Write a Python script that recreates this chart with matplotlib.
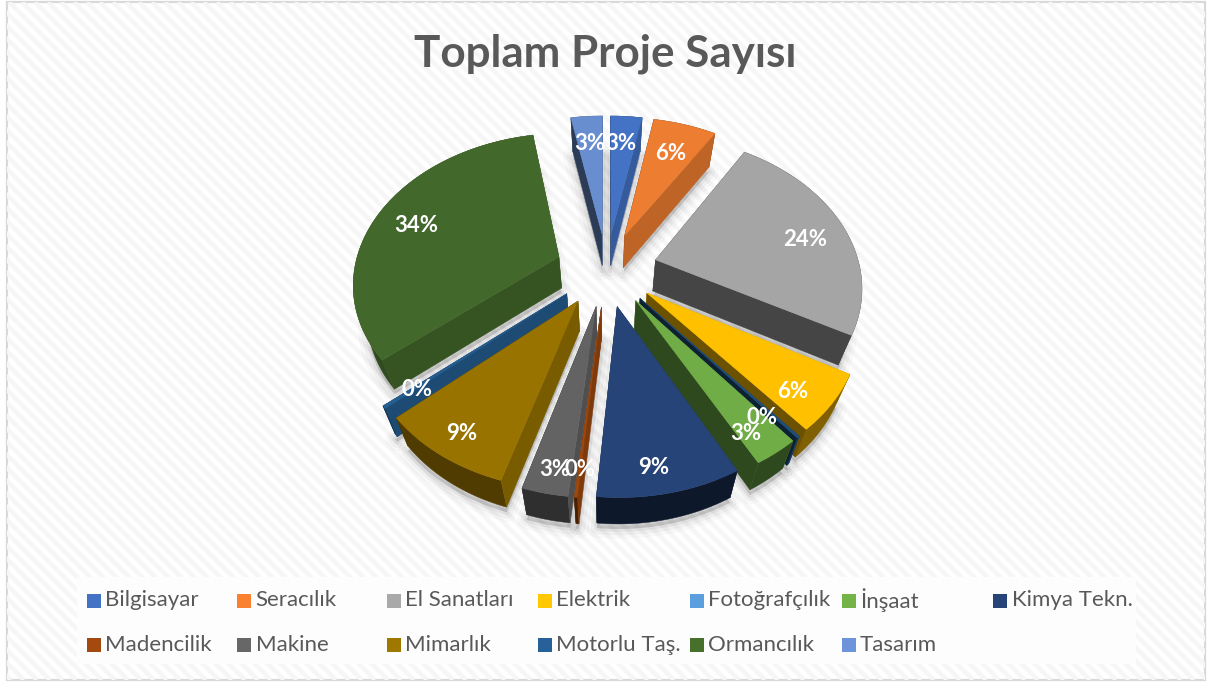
import numpy as np
import matplotlib
matplotlib.use("Agg")
import matplotlib.pyplot as plt
from matplotlib.patches import Polygon, Rectangle
from matplotlib.collections import LineCollection
from matplotlib.colors import to_rgb

# ---------- data ----------
categories = ["Bilgisayar", "Seracılık", "El Sanatları", "Elektrik", "Fotoğrafçılık", "İnşaat",
              "Kimya Tekn.", "Madencilik", "Makine", "Mimarlık", "Motorlu Taş.", "Ormancılık", "Tasarım"]
values = [3, 6, 24.4, 6, 0.2, 3, 9.4, 0.2, 3, 9, 0.3, 33.6, 3]
value_labels = ["3%", "6%", "24%", "6%", "0%", "3%", "9%", "0%", "3%", "9%", "0%", "34%", "3%"]

# ---------- style ----------
colors = ["#4472C4", "#ED7D31", "#A5A5A5", "#FFC000", "#1F4E79", "#70AD47", "#264478",
          "#9E480E", "#636363", "#997300", "#255E91", "#43682B", "#698ED0"]
legend_colors = ["#4472C4", "#F9812F", "#A9A9A9", "#FFC800", "#5B9FDF", "#74B347", "#264478",
                 "#A54A0E", "#676767", "#9F7800", "#26619A", "#46702B", "#6D94DA"]
outer_shade = [.5, .5, .4, .5, .8, .42, .35, .45, .47, .52, .6, .72, .5]
label_xy = [(621, 144), (671, 153), (805, 240), (793, 391), (762, 417), (746, 433), (654, 468),
            (580, 470), (555, 469), (462, 433), (417, 390), (416, 226), (590, 144)]
legend_x = [87, 237.5, 387, 538, 690, 842, 993.5]
legend_y = [600.5, 645]
TEXT = "#595959"
FONT = "Lato"

# projection of the tilted pie plane to the pixel space of the axes
CX, CY, RX, RY, K, EXPLODE = 606.5, 269, 204.5, 147, 0.16, 0.25


def project(u, v):
    w = 1 + K * v
    return CX + RX * u / w, CY - RY * v / w


def drop(p):
    x, y = p
    return CX + (x - CX) * 0.945, y + 31 - 0.02 * (y - CY)


def shaded(c, f):
    return tuple(np.array(to_rgb(c)) * f)


fig = plt.figure(figsize=(12.08, 6.82), dpi=100)
ax = fig.add_axes([0, 0, 1, 1])
ax.set_xlim(0, 1208)
ax.set_ylim(682, 0)
ax.axis("off")

# fabric-like background
frame = Rectangle((7, 1.5), 1197.5, 678.5, fc="white", ec="#D9D9D9", lw=1.6, zorder=0)
ax.add_patch(frame)
stripes = [[(x, 2), (x + 678, 680)] for x in np.arange(-680, 1205, 13)]
lc = LineCollection(stripes, colors="#F6F6F6", linewidths=3.2, zorder=0.5)
ax.add_collection(lc)
lc.set_clip_path(frame)
ax.add_patch(Rectangle((77, 577), 1059, 87, fc="#FDFDFD", ec="none", zorder=0.6))

# slices
vals = np.array(values, float)
edges = np.concatenate([[0], np.cumsum(vals)]) / vals.sum() * 360
slices = []
for i in range(len(vals)):
    a0, a1 = edges[i], edges[i + 1]
    mid = np.radians((a0 + a1) / 2)
    ou, ov = EXPLODE * np.sin(mid), EXPLODE * np.cos(mid)
    ang = np.radians(np.linspace(a0, a1, 60))
    apex = project(ou, ov)
    arc = [project(ou + np.sin(t), ov + np.cos(t)) for t in ang]
    slices.append(dict(i=i, a0=a0, a1=a1, mid=mid, apex=apex, arc=arc))

# soft shadow
for s in slices:
    pts = [drop(s["apex"])] + [drop(p) for p in s["arc"]]
    pts = [(x, y + 5) for x, y in pts]
    for lw, al in [(14, .025), (9, .035), (4, .05)]:
        ax.add_patch(Polygon(pts, closed=True, fc=(0, 0, 0, .05), ec=(0, 0, 0, al), lw=lw, zorder=1,
                             joinstyle="round"))

z = 2
for s in sorted(slices, key=lambda d: -np.cos(d["mid"])):
    i = s["i"]
    c = colors[i]
    apex, arc = s["apex"], s["arc"]
    low = [drop(p) for p in arc]
    walls = [(arc[0], s["a0"] - 90), (arc[-1], s["a1"] + 90)]
    # back-facing radial walls first, then the outer wall, then front-facing radial walls
    walls.sort(key=lambda w: -np.cos(np.radians(w[1])))
    outer_done = False
    for end, normal in walls + [(None, None)]:
        if not outer_done and (end is None or np.cos(np.radians(normal)) <= 0):
            ax.add_patch(Polygon(arc + low[::-1], closed=True, fc=shaded(c, outer_shade[i]),
                                 ec=shaded(c, outer_shade[i]), lw=.3, zorder=z))
            z += 1
            outer_done = True
        if end is None:
            break
        f = 0.8 if np.sin(np.radians(normal)) > 0 else 0.42
        ax.add_patch(Polygon([apex, end, drop(end), drop(apex)], closed=True, fc=shaded(c, f),
                             ec=shaded(c, f), lw=.3, zorder=z))
        z += 1
    # top face
    ax.add_patch(Polygon([apex] + arc, closed=True, fc=c, ec=c, lw=.3, zorder=z))
    z += 1

# data labels
for (x, y), t in zip(label_xy, value_labels):
    ax.text(x, y, t, color="white", fontsize=16, fontweight="bold", family=FONT,
            ha="center", va="center", zorder=500)

# title
ax.text(605, 54, "Toplam Proje Sayısı", color=TEXT, fontsize=31.7, fontweight="bold", family=FONT,
        ha="center", va="center", zorder=500)

# legend
for n, (name, col) in enumerate(zip(categories, legend_colors)):
    x, y = legend_x[n % 7], legend_y[n // 7]
    ax.add_patch(Rectangle((x - .5, y - 7), 14, 14, fc=col, ec="none", zorder=500))
    ax.text(x + 18, y, name, color=TEXT, fontsize=16, family=FONT, ha="left", va="center", zorder=500)

fig.savefig("out.png", dpi=100)
